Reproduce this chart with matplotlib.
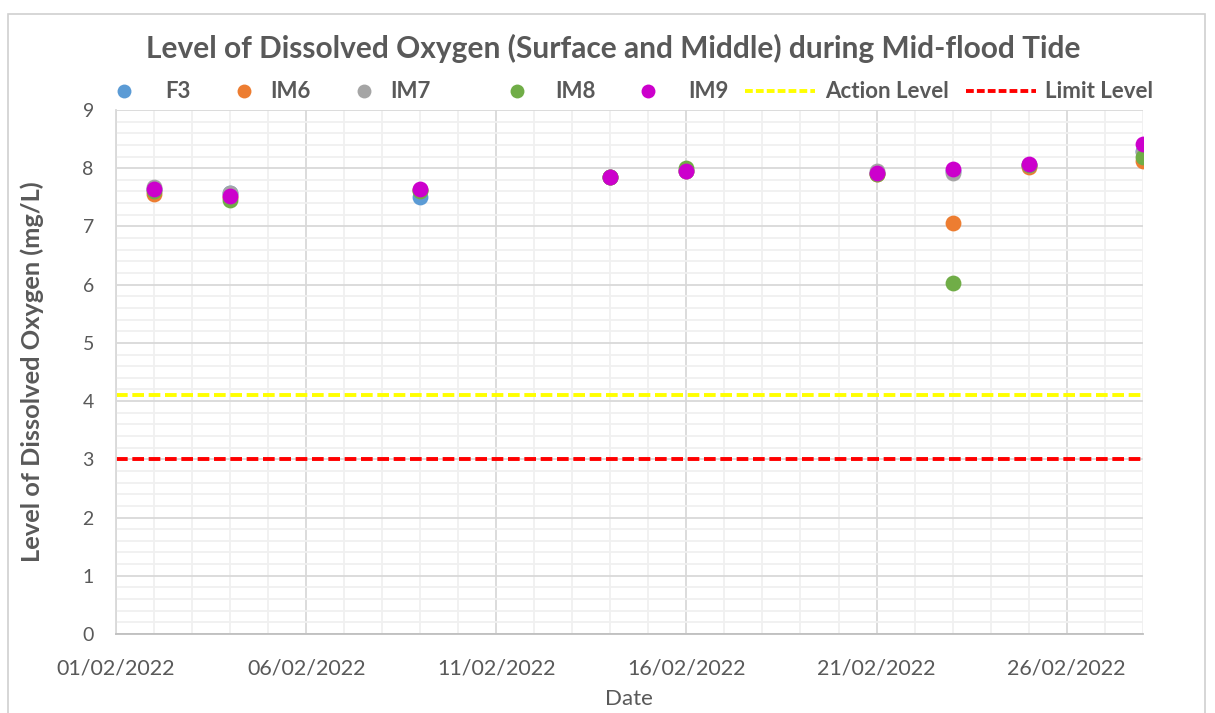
import matplotlib
matplotlib.use("Agg")
import matplotlib.pyplot as plt
import matplotlib.dates as mdates
from matplotlib.lines import Line2D
from matplotlib.patches import Rectangle
import numpy as np
from datetime import datetime, timedelta

dates = ["02/02/2022", "04/02/2022", "09/02/2022", "14/02/2022", "16/02/2022",
         "21/02/2022", "23/02/2022", "25/02/2022", "28/02/2022"]
f3 = [7.65, 7.58, 7.50, 7.84, 7.95, 7.92, 7.95, 8.05, 8.30]
im6 = [7.56, 7.50, 7.62, 7.84, 7.95, 7.90, 7.06, 8.02, 8.12]
im7 = [7.68, 7.58, 7.62, 7.84, 7.96, 7.95, 7.91, 8.06, 8.28]
im8 = [7.60, 7.45, 7.60, 7.84, 8.00, 7.90, 6.03, 8.05, 8.20]
im9 = [7.64, 7.52, 7.64, 7.85, 7.95, 7.91, 7.98, 8.07, 8.41]
action_level = 4.1
limit_level = 3.0

series = [("F3", f3, "#5B9BD5"), ("IM6", im6, "#ED7D31"), ("IM7", im7, "#A5A5A5"),
          ("IM8", im8, "#70AD47"), ("IM9", im9, "#CC00CC")]

x = [datetime.strptime(d, "%d/%m/%Y") for d in dates]
x_start = datetime(2022, 2, 1)
x_end = datetime(2022, 2, 28)

plt.rcParams['font.family'] = ['Lato', 'DejaVu Sans']
grey_text = "#595959"
W, H = 1215, 713

fig = plt.figure(figsize=(W / 100, H / 100), dpi=100)
ax = fig.add_axes([0.0955, 0.1108, 0.845, 0.735])

# chart frame
fig.patches.append(Rectangle((8 / W, -0.01), 1197 / W, 1 - 14 / H + 0.01,
                             transform=fig.transFigure, fill=False,
                             edgecolor="#D0D0D0", linewidth=1.2))

# scatter series
for name, vals, col in series:
    ax.scatter(x, vals, s=130, color=col, zorder=3, linewidths=0)

# action / limit lines
dash = (0, (3, 1.2))
ax.plot([x_start, x_end], [action_level, action_level], color="#FFFF00",
        linewidth=2.8, linestyle=dash, zorder=2)
ax.plot([x_start, x_end], [limit_level, limit_level], color="#FF0000",
        linewidth=2.8, linestyle=dash, zorder=2)

ax.set_xlim(x_start, x_end)
ax.set_ylim(0, 9)

major_days = [x_start + timedelta(days=5 * i) for i in range(6)]
ax.set_xticks(major_days)
ax.xaxis.set_major_formatter(mdates.DateFormatter("%d/%m/%Y"))
ax.set_xticks([x_start + timedelta(days=i) for i in range(28)], minor=True)
ax.set_yticks(np.arange(0, 10, 1))
ax.set_yticks(np.arange(0, 9.01, 0.2), minor=True)

ax.grid(True, which="major", color="#D9D9D9", linewidth=1.3, zorder=0)
ax.grid(True, which="minor", color="#F0F0F0", linewidth=1.3, zorder=0)
ax.set_axisbelow(True)

for s in ["top", "right"]:
    ax.spines[s].set_visible(False)
ax.spines["left"].set_color("#D9D9D9")
ax.spines["bottom"].set_color("#BFBFBF")
ax.spines["left"].set_linewidth(1.3)
ax.spines["bottom"].set_linewidth(1.3)

ax.tick_params(axis="both", which="both", length=0)
ax.tick_params(axis="x", labelsize=15.5, labelcolor=grey_text, pad=18)
ax.tick_params(axis="y", labelsize=14, labelcolor=grey_text, pad=16)

ax.set_xlabel("Date", fontsize=16, color=grey_text, labelpad=7)
ax.set_ylabel("Level of Dissolved Oxygen (mg/L)", fontsize=18.3, color=grey_text,
              fontweight="bold", labelpad=28)

fig.text(0.505, 1 - 48 / H, "Level of Dissolved Oxygen (Surface and Middle) during Mid-flood Tide",
         ha="center", va="center", fontsize=21.5, fontweight="bold", color=grey_text)

# legend, laid out by hand to follow the reference spacing
leg_y = 1 - 91 / H
marker_x = [124, 244, 364, 517, 648]
text_x = [165, 270, 390, 555, 688]
for (name, _, col), mx, tx in zip(series, marker_x, text_x):
    fig.add_artist(Line2D([mx / W], [leg_y], marker="o", markersize=10,
                          markerfacecolor=col, markeredgewidth=0, linestyle="none",
                          transform=fig.transFigure))
    fig.text(tx / W, leg_y, name, ha="left", va="center", fontsize=16,
             fontweight="bold", color=grey_text)
for (x0, x1, tx, col, label) in [(745, 815, 825, "#FFFF00", "Action Level"),
                                 (966, 1036, 1045, "#FF0000", "Limit Level")]:
    fig.add_artist(Line2D([x0 / W, x1 / W], [leg_y, leg_y], color=col, linewidth=2.8,
                          linestyle=(0, (2, 0.8)), transform=fig.transFigure))
    fig.text(tx / W, leg_y, label, ha="left", va="center", fontsize=16,
             fontweight="bold", color=grey_text)

fig.savefig("out.png", dpi=100)
